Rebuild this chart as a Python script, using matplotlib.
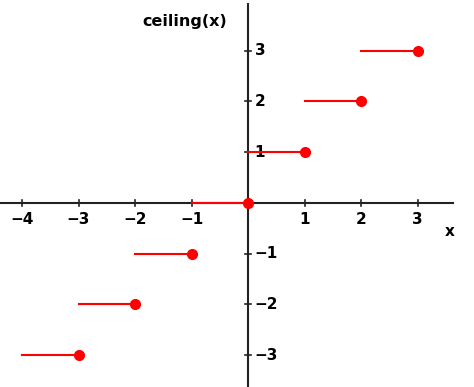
import matplotlib.pyplot as plt

# ceiling(x) step plot data
step_vals = [-3, -2, -1, 0, 1, 2, 3]
x_ticks = [-4, -3, -2, -1, 1, 2, 3]
y_ticks = [-3, -2, -1, 1, 2, 3]

plt.rcParams['font.family'] = ['DejaVu Sans']

fig = plt.figure(figsize=(4.74, 3.87), dpi=100)
ax = fig.add_axes([0, 0, 1, 1])
ax.set_xlim(-4.39, 4.0)
ax.set_ylim(-3.63, 4.0)
ax.axis('off')

# axes lines
ax.plot([-4.39, 3.63], [0, 0], color='#222222', lw=1.5, zorder=1)
ax.plot([0, 0], [-3.63, 3.92], color='#222222', lw=1.5, zorder=1)

# ticks
for t in x_ticks:
    ax.plot([t, t], [-0.06, 0.06], color='#222222', lw=1.2, zorder=1)
    lab = str(t).replace('-', '\u2212')
    ax.text(t, -0.33, lab, ha='center', va='center', fontsize=11, fontweight='bold')
for t in y_ticks:
    ax.plot([-0.06, 0.05], [t, t], color='#222222', lw=1.2, zorder=1)
    lab = str(t).replace('-', '\u2212')
    ax.text(0.12, t, lab, ha='left', va='center', fontsize=11, fontweight='bold')

ax.text(-0.37, 3.57, 'ceiling(x)', ha='right', va='center', fontsize=11.5, fontweight='bold')
ax.text(3.57, -0.57, 'x', ha='center', va='center', fontsize=11, fontweight='bold')

# steps
for k in step_vals:
    ax.plot([k - 1, k], [k, k], color='#ff0000', lw=1.5, zorder=3)
    ax.plot([k], [k], 'o', color='#ff0000', ms=7, zorder=4)

fig.savefig('out.png', dpi=100)
